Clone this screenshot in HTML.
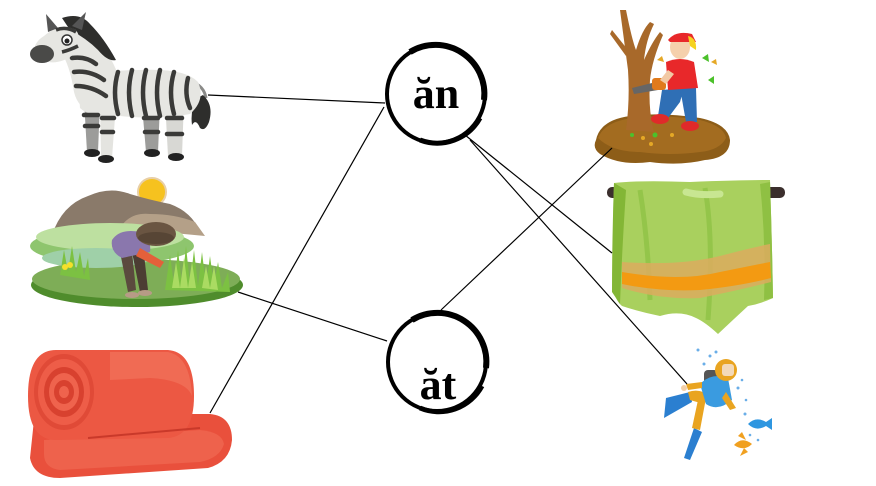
<!DOCTYPE html>
<html><head><meta charset="utf-8">
<style>
html,body{margin:0;padding:0;background:#fff;}
svg{display:block;}
text{font-family:"Liberation Serif",serif;font-weight:bold;}
</style></head>
<body>
<svg width="876" height="486" viewBox="0 0 876 486" xmlns="http://www.w3.org/2000/svg">
<rect width="876" height="486" fill="#fff"/>

<!-- ZEBRA -->
<g>
  <!-- tail -->
  <path d="M192 82 Q204 86 206 98" stroke="#8a8a88" stroke-width="3" fill="none"/>
  <path d="M203 95 Q214 105 209 122 Q205 132 200 128 Q196 118 192 125 Q190 110 197 98 Z" fill="#2e2e2c"/>
  <!-- back legs -->
  <path d="M142 105 L160 105 L158 152 L146 152 Z" fill="#9c9c9a"/>
  <path d="M165 100 L184 100 L182 156 L168 156 Z" fill="#d8d8d4"/>
  <!-- front legs -->
  <path d="M84 100 L100 102 L98 152 L87 152 Z" fill="#9c9c9a"/>
  <path d="M100 102 L116 104 L112 158 L101 158 Z" fill="#e4e4e0"/>
  <!-- hooves -->
  <ellipse cx="92" cy="153" rx="8" ry="4" fill="#222"/>
  <ellipse cx="106" cy="159" rx="8" ry="4" fill="#222"/>
  <ellipse cx="152" cy="153" rx="8" ry="4" fill="#222"/>
  <ellipse cx="176" cy="157" rx="8" ry="4" fill="#222"/>
  <!-- body -->
  <path d="M78 78 Q100 70 140 70 Q185 68 198 82 Q206 100 190 114 Q160 120 120 116 Q90 118 80 108 Z" fill="#e6e6e2"/>
  <!-- neck -->
  <path d="M60 32 Q80 22 96 34 Q110 55 118 74 Q108 100 92 112 Q78 108 74 92 Q70 65 60 50 Z" fill="#e6e6e2"/>
  <!-- mane -->
  <path d="M62 18 Q80 12 90 24 Q104 38 116 60 Q108 62 98 50 Q86 38 70 30 Z" fill="#2e2e2c"/>
  <!-- stripes -->
  <g stroke="#3a3a38" stroke-width="4.5" fill="none" stroke-linecap="round">
    <path d="M72 58 Q86 56 96 64"/>
    <path d="M74 72 Q90 70 104 80"/>
    <path d="M76 86 Q92 86 106 96"/>
    <path d="M118 72 Q112 92 118 114"/>
    <path d="M132 70 Q126 92 132 116"/>
    <path d="M146 70 Q140 92 146 116"/>
    <path d="M160 70 Q154 92 160 116"/>
    <path d="M174 72 Q168 92 174 114"/>
    <path d="M188 78 Q184 94 190 108"/>
    <path d="M84 115 L98 115"/>
    <path d="M85 126 L98 126"/>
    <path d="M102 118 L114 118"/>
    <path d="M102 132 L113 132"/>
    <path d="M144 118 L158 118"/>
    <path d="M145 132 L158 132"/>
    <path d="M167 118 L182 118"/>
    <path d="M167 134 L182 134"/>
  </g>
  <!-- head -->
  <path d="M44 36 Q60 22 76 30 Q84 42 74 54 Q62 64 48 62 Q36 60 34 52 Q34 42 44 36 Z" fill="#e6e6e2"/>
  <ellipse cx="42" cy="54" rx="12" ry="9" fill="#4a4a48"/>
  <path d="M46 14 L58 28 L48 32 Z" fill="#555"/>
  <path d="M86 12 L82 30 L72 26 Z" fill="#555"/>
  <circle cx="67" cy="40" r="5" fill="#fff" stroke="#333" stroke-width="1.5"/>
  <circle cx="67" cy="41" r="2.5" fill="#222"/>
  <g stroke="#3a3a38" stroke-width="3.5" fill="none">
    <path d="M56 30 Q66 26 76 32"/>
    <path d="M62 52 Q70 50 78 46"/>
  </g>
</g>

<!-- RICE FIELD -->
<g>
  <ellipse cx="137" cy="285" rx="106" ry="22" fill="#4f8c2c"/>
  <ellipse cx="136" cy="279" rx="104" ry="20" fill="#7ead57"/>
  <circle cx="152" cy="192" r="14" fill="#f6c21f" stroke="#e8cfa6" stroke-width="2"/>
  <path d="M52 235 Q62 205 88 196 Q110 186 130 194 Q150 200 170 204 Q192 212 200 232 Z" fill="#8a7a6a"/>
  <path d="M120 228 Q130 212 150 214 Q175 214 195 222 L205 236 Z" fill="#b4a088"/>
  <ellipse cx="112" cy="246" rx="82" ry="18" fill="#8ec56e"/>
  <ellipse cx="110" cy="237" rx="74" ry="14" fill="#bde0a0"/>
  <ellipse cx="96" cy="258" rx="54" ry="10" fill="#9fd0a8"/>
  <!-- rice plants -->
  <g fill="#7cc142">
    <path d="M165 290 L170 255 L174 285 L178 250 L182 285 L186 246 L190 285 L194 250 L198 286 L202 252 L206 286 L210 256 L214 286 L218 262 L222 288 L228 272 L230 292 Z"/>
    <path d="M60 275 L64 250 L68 272 L72 246 L76 272 L80 252 L84 276 L88 258 L90 280 Z"/>
  </g>
  <g fill="#aadb62">
    <path d="M172 288 L176 262 L180 288 L184 258 L188 288 L192 262 L196 288 Z"/>
    <path d="M202 288 L206 266 L210 288 L214 266 L218 290 Z"/>
  </g>
  <circle cx="65" cy="267" r="3" fill="#f5e02a"/>
  <circle cx="70" cy="265" r="3" fill="#f5e02a"/>
  <!-- farmer -->
  <path d="M120 252 L132 252 L136 290 L128 292 Z" fill="#5b4a3e"/>
  <path d="M132 252 L144 254 L148 290 L140 292 Z" fill="#4c3d33"/>
  <ellipse cx="132" cy="295" rx="7" ry="3" fill="#b79b86"/>
  <ellipse cx="145" cy="293" rx="7" ry="3" fill="#b79b86"/>
  <path d="M112 240 Q120 228 140 232 Q152 240 150 252 L122 258 Q110 252 112 240 Z" fill="#8a77ad"/>
  <path d="M140 248 L164 262 L160 268 L136 256 Z" fill="#e4603a"/>
  <ellipse cx="156" cy="234" rx="20" ry="12" fill="#6a5542"/>
  <ellipse cx="156" cy="238" rx="18" ry="6" fill="#574535"/>
</g>

<!-- BLANKET -->
<g>
  <path d="M34 420 Q40 414 60 414 L210 414 Q232 416 232 440 Q230 462 208 468 L60 478 Q34 478 30 458 Z" fill="#e9503c"/>
  <path d="M44 440 L200 430 Q222 432 224 444 Q220 458 200 462 L60 470 Q44 468 44 454 Z" fill="#f06a52" opacity="0.7"/>
  <path d="M56 350 L168 350 Q194 352 194 396 Q194 436 168 438 L56 440 Q28 440 28 396 Q28 350 56 350 Z" fill="#ec5843"/>
  <path d="M110 352 L168 352 Q190 356 192 396 Q186 380 150 378 L110 380 Z" fill="#f37861" opacity="0.6"/>
  <ellipse cx="64" cy="392" rx="30" ry="38" fill="#e04a37"/>
  <ellipse cx="64" cy="392" rx="26" ry="33" fill="#ee5d48"/>
  <ellipse cx="64" cy="392" rx="20" ry="25" fill="#d8412f"/>
  <ellipse cx="64" cy="392" rx="15" ry="19" fill="#ef634d"/>
  <ellipse cx="64" cy="392" rx="10" ry="12" fill="#d8412f"/>
  <ellipse cx="64" cy="392" rx="5" ry="6" fill="#ef634d"/>
  <path d="M88 438 L200 428" stroke="#c9392a" stroke-width="2" fill="none"/>
</g>

<!-- TREE + BOY -->
<g>
  <path d="M596 140 Q600 120 630 116 Q660 112 700 118 Q728 124 730 140 Q730 158 705 160 Q680 166 650 162 Q620 166 600 154 Q592 148 596 140 Z" fill="#8d5d18"/>
  <path d="M598 138 Q604 122 632 118 Q662 114 700 120 Q724 126 726 138 Q720 150 700 152 Q670 156 640 152 Q612 152 598 138 Z" fill="#a36c20"/>
  <!-- trunk -->
  <path d="M626 130 Q630 100 628 70 Q624 40 620 10 L626 10 Q632 40 636 50 Q642 30 650 22 L654 24 Q646 40 644 60 Q652 42 660 32 L663 35 Q652 60 650 80 Q648 110 654 132 Z" fill="#a8692a"/>
  <path d="M612 30 L628 50 L626 56 L610 34 Z" fill="#a8692a"/>
  <!-- chainsaw -->
  <path d="M632 88 L656 82 L658 90 L634 94 Z" fill="#666"/>
  <rect x="652" y="78" width="14" height="12" rx="3" fill="#e07a1c"/>
  <!-- boy legs -->
  <path d="M662 90 L684 88 L680 102 L668 118 L658 116 Z" fill="#2f6fb5"/>
  <path d="M680 88 L696 88 L697 122 L686 122 Z" fill="#2f6fb5"/>
  <ellipse cx="660" cy="119" rx="9" ry="5" fill="#e02a2a"/>
  <ellipse cx="690" cy="126" rx="9" ry="5" fill="#e02a2a"/>
  <!-- shirt -->
  <path d="M666 62 Q680 56 694 62 L698 88 L668 90 Z" fill="#e8282a"/>
  <path d="M668 70 L660 80 L666 84 L674 74 Z" fill="#f2c9a4"/>
  <!-- head -->
  <ellipse cx="680" cy="47" rx="10" ry="12" fill="#f5d0ac"/>
  <path d="M668 40 Q676 30 692 34 L696 42 L670 42 Z" fill="#e8282a"/>
  <path d="M688 36 Q697 38 696 50 L690 46 Z" fill="#f5d320"/>
  <!-- leaves -->
  <path d="M657 60 l5 -4 l2 6 z" fill="#e5a826"/>
  <path d="M702 58 l6 -4 l1 8 z" fill="#4cc12b"/>
  <path d="M711 62 l5 -3 l1 6 z" fill="#e5a826"/>
  <path d="M708 80 l6 -4 l0 8 z" fill="#4cc12b"/>
  <circle cx="632" cy="135" r="2" fill="#4cc12b"/>
  <circle cx="655" cy="135" r="2.5" fill="#4cc12b"/>
  <circle cx="643" cy="138" r="2" fill="#e5a826"/>
  <circle cx="651" cy="144" r="2" fill="#e5a826"/>
  <circle cx="672" cy="135" r="2" fill="#e5a826"/>
</g>

<!-- TOWEL -->
<g>
  <rect x="607" y="187" width="178" height="11" rx="5" fill="#3b2f2d"/>
  <path d="M614 183 Q640 180 690 182 Q740 180 770 180 Q772 240 773 298 Q760 304 748 306 Q735 318 718 334 Q705 322 696 318 Q680 310 660 316 Q640 312 622 306 Q615 300 614 290 Q612 240 614 183 Z" fill="#a9d05e"/>
  <path d="M614 183 Q612 240 612 292 L620 304 Q622 250 626 190 Z" fill="#83b636"/>
  <path d="M760 184 L770 182 Q772 240 773 298 L764 300 Q766 240 760 184 Z" fill="#8fc043"/>
  <path d="M640 190 Q648 240 650 300" stroke="#94c54a" stroke-width="5" fill="none"/>
  <path d="M705 188 Q714 240 708 320" stroke="#94c54a" stroke-width="5" fill="none"/>
  <path d="M686 192 Q700 196 720 194" stroke="#c8e692" stroke-width="7" fill="none" stroke-linecap="round"/>
  <path d="M622 262 Q680 266 720 256 Q750 248 770 244 L771 282 Q740 290 700 298 Q660 300 622 288 Z" fill="#dcac5e" opacity="0.85"/>
  <path d="M622 272 Q680 282 720 272 Q750 266 770 262 L771 278 Q740 286 700 290 Q660 292 622 284 Z" fill="#f39a12"/>
</g>

<!-- DIVER -->
<g>
  <!-- fins -->
  <path d="M690 392 L666 398 L664 418 L692 402 Z" fill="#2b7fd0"/>
  <path d="M694 428 L684 458 L690 460 L702 432 Z" fill="#2b7fd0"/>
  <!-- legs -->
  <path d="M688 392 Q700 388 710 396 L704 404 L690 400 Z" fill="#e9a420"/>
  <path d="M706 398 L700 430 L692 428 L698 400 Z" fill="#e9a420"/>
  <!-- tank -->
  <rect x="704" y="370" width="14" height="14" rx="4" fill="#555"/>
  <!-- body -->
  <path d="M700 384 Q712 372 728 378 L732 400 Q718 412 706 404 Z" fill="#3a9be0"/>
  <path d="M686 384 L702 382 L702 388 L688 390 Z" fill="#e9a420"/>
  <circle cx="684" cy="388" r="3" fill="#f3d0a8"/>
  <path d="M726 392 L736 408 L730 410 L722 398 Z" fill="#e9a420"/>
  <!-- head -->
  <circle cx="726" cy="370" r="11" fill="#e9a420"/>
  <rect x="722" y="364" width="12" height="12" rx="3" fill="#f3d9b8"/>
  <!-- bubbles -->
  <g fill="#6aaee8">
    <circle cx="698" cy="350" r="1.5"/><circle cx="710" cy="356" r="1.5"/>
    <circle cx="716" cy="352" r="1.5"/><circle cx="704" cy="364" r="1.5"/>
    <circle cx="738" cy="388" r="1.5"/><circle cx="742" cy="380" r="1.3"/>
    <circle cx="746" cy="400" r="1.3"/><circle cx="745" cy="414" r="1.5"/>
    <circle cx="750" cy="435" r="1.3"/><circle cx="758" cy="440" r="1.3"/>
  </g>
  <!-- fish -->
  <path d="M748 424 Q756 416 766 422 L772 418 L772 430 L766 426 Q756 432 748 424 Z" fill="#2e96e0"/>
  <path d="M734 445 Q742 436 752 444 Q744 452 734 445 Z" fill="#f0a020"/>
  <path d="M738 436 L742 432 L746 440 Z" fill="#f0a020"/>
  <path d="M744 448 L740 456 L748 452 Z" fill="#f0a020"/>
</g>

<!-- CONNECTOR LINES -->
<g stroke="#000" stroke-width="1.2" fill="none">
  <line x1="208" y1="95" x2="385" y2="103"/>
  <line x1="210" y1="413" x2="384" y2="107"/>
  <line x1="238" y1="292" x2="387" y2="341"/>
  <line x1="441" y1="310" x2="612" y2="148"/>
  <line x1="465" y1="135" x2="612" y2="253"/>
  <line x1="470" y1="140" x2="687" y2="384"/>
</g>

<!-- CIRCLES -->
<g fill="none" stroke="#000">
  <circle cx="436" cy="94" r="49" stroke-width="4"/>
  <path d="M410 52 A49 49 0 0 1 484 100" stroke-width="6"/>
  <path d="M480 118 A49 49 0 0 1 420 140" stroke-width="5"/>
  <circle cx="437" cy="362" r="49" stroke-width="4"/>
  <path d="M412 320 A49 49 0 0 1 486 368" stroke-width="6"/>
  <path d="M482 386 A49 49 0 0 1 420 408" stroke-width="5"/>
</g>
<text x="436" y="108" font-size="44" text-anchor="middle" fill="#000">ăn</text>
<text x="438" y="399" font-size="44" text-anchor="middle" fill="#000">ăt</text>
</svg>
</body></html>
